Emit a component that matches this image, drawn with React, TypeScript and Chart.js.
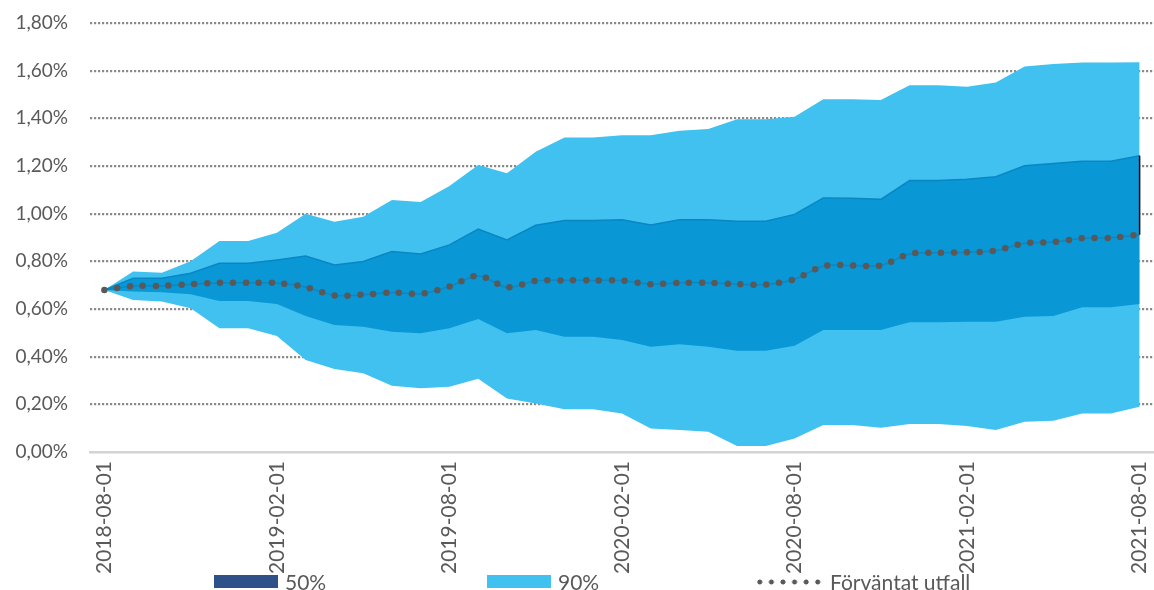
import React, { useEffect, useRef } from 'react';
import { Chart, registerables } from 'chart.js';

Chart.register(...registerables);

const dates = [
  '2018-08-01', '2018-09-01', '2018-10-01', '2018-11-01', '2018-12-01',
  '2019-01-01', '2019-02-01', '2019-03-01', '2019-04-01', '2019-05-01', '2019-06-01', '2019-07-01',
  '2019-08-01', '2019-09-01', '2019-10-01', '2019-11-01', '2019-12-01',
  '2020-01-01', '2020-02-01', '2020-03-01', '2020-04-01', '2020-05-01', '2020-06-01', '2020-07-01',
  '2020-08-01', '2020-09-01', '2020-10-01', '2020-11-01', '2020-12-01',
  '2021-01-01', '2021-02-01', '2021-03-01', '2021-04-01', '2021-05-01', '2021-06-01', '2021-07-01',
  '2021-08-01',
];

const yTicks = [0, 0.2, 0.4, 0.6, 0.8, 1.0, 1.2, 1.4, 1.6, 1.8];

const upper90 = [
  0.68, 0.757, 0.752, 0.8, 0.885, 0.885, 0.92, 1.0, 0.966, 0.987, 1.057, 1.049,
  1.116, 1.204, 1.17, 1.26, 1.32, 1.32, 1.329, 1.329, 1.348, 1.355, 1.396, 1.396,
  1.407, 1.48, 1.48, 1.477, 1.539, 1.539, 1.533, 1.55, 1.617, 1.628, 1.634, 1.634,
  1.635,
];

const lower90 = [
  0.68, 0.638, 0.631, 0.603, 0.519, 0.519, 0.487, 0.386, 0.348, 0.33, 0.278, 0.267,
  0.274, 0.307, 0.225, 0.204, 0.179, 0.179, 0.162, 0.099, 0.092, 0.085, 0.025, 0.025,
  0.057, 0.113, 0.113, 0.102, 0.117, 0.117, 0.109, 0.092, 0.127, 0.131, 0.162, 0.162,
  0.19,
];

const upper50 = [
  0.68, 0.729, 0.729, 0.75, 0.792, 0.792, 0.806, 0.822, 0.785, 0.799, 0.841, 0.831,
  0.869, 0.935, 0.89, 0.951, 0.971, 0.971, 0.974, 0.953, 0.974, 0.974, 0.968, 0.968,
  0.997, 1.066, 1.065, 1.06, 1.139, 1.139, 1.144, 1.155, 1.201, 1.211, 1.22, 1.22,
  1.243,
];

const lower50 = [
  0.68, 0.673, 0.67, 0.662, 0.634, 0.634, 0.621, 0.571, 0.533, 0.526, 0.505, 0.498,
  0.519, 0.558, 0.498, 0.512, 0.484, 0.484, 0.47, 0.442, 0.452, 0.442, 0.425, 0.425,
  0.446, 0.512, 0.512, 0.512, 0.544, 0.544, 0.547, 0.547, 0.568, 0.571, 0.607, 0.607,
  0.621,
];

const expected = [
  0.68, 0.697, 0.697, 0.704, 0.71, 0.71, 0.709, 0.692, 0.657, 0.66, 0.669, 0.664,
  0.694, 0.74, 0.691, 0.718, 0.72, 0.72, 0.719, 0.704, 0.71, 0.71, 0.704, 0.703,
  0.725, 0.78, 0.783, 0.783, 0.831, 0.836, 0.838, 0.845, 0.876, 0.881, 0.897, 0.899,
  0.912,
];

const FONT = 'Lato, "Noto Sans", sans-serif';
const TEXT = '#595959';
const LIGHT = '#40C1F0';
const DARK = '#0997D5';
const LEGEND50 = '#2F5189';

export default function App() {
  const ref = useRef<HTMLCanvasElement>(null);

  useEffect(() => {
    document.body.style.margin = '0';
    const last = dates.length - 1;
    const endLine = {
      id: 'endLine',
      afterDatasetsDraw(chart: any) {
        const c = chart.ctx;
        const x = chart.scales.x.getPixelForValue(last);
        const y1 = chart.scales.y.getPixelForValue(upper50[last]);
        const y2 = chart.scales.y.getPixelForValue(expected[last]);
        c.save();
        c.strokeStyle = '#000000';
        c.lineWidth = 1.5;
        c.beginPath();
        c.moveTo(x, y1);
        c.lineTo(x, y2);
        c.stroke();
        c.restore();
      },
    };

    const chart = new Chart(ref.current as HTMLCanvasElement, {
      type: 'line',
      data: {
        labels: dates,
        datasets: [
          {
            label: 'Förväntat utfall',
            data: expected,
            borderColor: '#595959',
            borderWidth: 6.5,
            borderDash: [0, 12.9],
            borderCapStyle: 'round',
            pointRadius: 0,
            fill: false,
            tension: 0.3,
            order: 0,
          },
          {
            label: 'base',
            data: expected,
            borderColor: 'rgba(10,110,170,0.35)',
            borderWidth: 1.5,
            pointRadius: 0,
            fill: false,
            tension: 0.3,
            order: 1,
          },
          {
            label: '50%',
            data: upper50,
            borderColor: '#0A86C4',
            borderWidth: 1.5,
            backgroundColor: DARK,
            fill: 3,
            pointRadius: 0,
            tension: 0,
            order: 2,
          },
          {
            label: '50% low',
            data: lower50,
            borderColor: 'transparent',
            borderWidth: 0,
            pointRadius: 0,
            fill: false,
            tension: 0,
            order: 3,
          },
          {
            label: '90%',
            data: upper90,
            borderColor: 'transparent',
            borderWidth: 0,
            backgroundColor: LIGHT,
            fill: 5,
            pointRadius: 0,
            tension: 0,
            order: 4,
          },
          {
            label: '90% low',
            data: lower90,
            borderColor: 'transparent',
            borderWidth: 0,
            pointRadius: 0,
            fill: false,
            tension: 0,
            order: 5,
          },
        ],
      },
      options: {
        responsive: false,
        animation: false,
        layout: { padding: { top: 23, left: 0, right: 0, bottom: 0 } },
        plugins: {
          legend: { display: false },
          tooltip: { enabled: false },
        },
        scales: {
          x: {
            type: 'category',
            offset: true,
            grid: { display: false, drawTicks: false },
            border: { display: true, color: '#D4D4D4', width: 2.5 },
            ticks: {
              autoSkip: false,
              maxRotation: 90,
              minRotation: 90,
              padding: 9,
              color: TEXT,
              font: { family: FONT, size: 21 },
              callback: (_v: any, i: number) => (i % 6 === 0 ? dates[i] : ''),
            },
            afterFit: (s: any) => {
              s.height = 138;
              s.paddingLeft = 0;
              s.paddingRight = 0;
            },
          },
          y: {
            min: 0,
            max: 1.8,
            afterBuildTicks: (s: any) => {
              s.ticks = yTicks.map((v) => ({ value: v }));
            },
            ticks: {
              padding: 22,
              color: TEXT,
              font: { family: FONT, size: 19 },
              callback: (v: any) => Number(v).toFixed(2).replace('.', ',') + '%',
            },
            grid: {
              drawTicks: false,
              lineWidth: 2.2,
              color: (ctx: any) => (ctx.tick && ctx.tick.value === 0 ? 'rgba(0,0,0,0)' : '#8A8A8A'),
            },
            border: { display: false, dash: [2.2, 1.8] },
            afterFit: (s: any) => {
              s.width = 90;
              s.paddingTop = 0;
              s.paddingBottom = 0;
            },
          },
        },
      },
      plugins: [endLine],
    } as any);
    return () => chart.destroy();
  }, []);

  const legendText: React.CSSProperties = {
    fontFamily: FONT,
    fontSize: 21,
    color: TEXT,
    lineHeight: '21px',
    whiteSpace: 'nowrap',
  };
  const item: React.CSSProperties = {
    position: 'absolute',
    top: 571,
    display: 'flex',
    alignItems: 'center',
    height: 21,
  };

  return (
    <div style={{ position: 'relative', width: 1154, height: 590 }}>
      <canvas ref={ref} width={1154} height={590} style={{ display: 'block' }} />
      <div style={{ ...item, left: 214 }}>
        <span style={{ display: 'inline-block', width: 64, height: 13, background: LEGEND50, marginRight: 7 }} />
        <span style={legendText}>50%</span>
      </div>
      <div style={{ ...item, left: 487 }}>
        <span style={{ display: 'inline-block', width: 64, height: 13, background: LIGHT, marginRight: 7 }} />
        <span style={legendText}>90%</span>
      </div>
      <div style={{ ...item, left: 754 }}>
        <span
          style={{
            display: 'inline-block',
            width: 70,
            height: 6,
            marginRight: 6,
            backgroundImage: 'radial-gradient(circle, #5A5A5A 2.2px, rgba(0,0,0,0) 2.8px)',
            backgroundSize: '11.6px 6px',
            backgroundRepeat: 'repeat-x',
          }}
        />
        <span style={legendText}>Förväntat utfall</span>
      </div>
    </div>
  );
}
